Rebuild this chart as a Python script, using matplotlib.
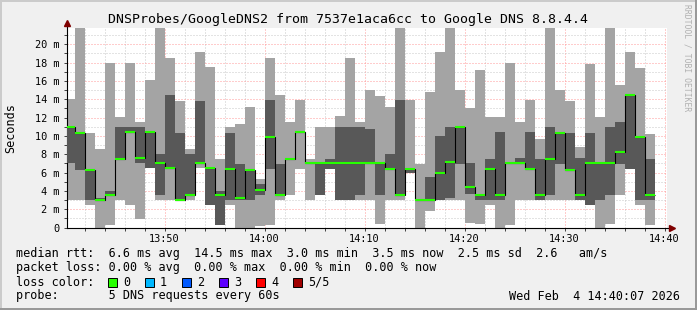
import numpy as np
import matplotlib.pyplot as plt
from matplotlib.patches import Rectangle
from matplotlib.lines import Line2D
from matplotlib.ticker import MultipleLocator

W, H = 697, 310
MONO = "DejaVu Sans Mono"

# one bar per minute starting 13:40, sorted ping times in ms
ping_max = [14.0, 23, 10.3, 8.6, 18.0, 12.1, 18.0, 11.55, 16.1, 23,
            18.5, 13.8, 8.6, 19.1, 17.5, 7.5, 11.0, 11.25, 13.2, 5.3,
            18.5, 14.45, 11.55, 13.9, 7.5, 11.0, 11.0, 12.2, 18.5, 11.55,
            15.0, 14.35, 13.2, 23, 13.9, 6.9, 14.8, 19.1, 23, 15.0,
            13.0, 17.2, 12.1, 12.1, 18.0, 11.55, 13.9, 9.65, 23, 15.0,
            13.8, 8.8, 17.85, 12.1, 23, 15.55, 19.1, 17.45, 10.2]
ping_p4 = [11.0, 10.3, 6.3, 3.2, 4.0, 11.0, 11.0, 11.0, 10.45, 8.0,
           14.45, 10.3, 8.0, 13.8, 6.45, 4.0, 10.3, 6.9, 6.3, 4.75,
           13.9, 6.9, 7.5, 10.45, 7.0, 7.0, 7.5, 11.0, 11.0, 11.0,
           10.75, 7.0, 8.0, 13.9, 6.4, 3.0, 5.5, 10.0, 11.0, 11.0,
           7.0, 3.7, 7.5, 10.45, 7.0, 7.55, 10.45, 7.5, 11.0, 10.45,
           10.3, 7.55, 10.3, 7.0, 11.0, 11.55, 14.45, 9.9, 7.5]
ping_med = [11.0, 10.3, 6.3, 3.0, 3.5, 7.5, 10.45, 7.6, 10.45, 7.0,
            6.45, 3.0, 3.5, 7.0, 6.45, 3.5, 6.35, 3.25, 6.3, 4.1,
            9.9, 3.5, 7.5, 10.45, 7.0, 7.0, 7.0, 7.0, 7.0, 7.0,
            7.0, 7.0, 6.4, 3.5, 6.4, 3.0, 3.0, 6.0, 7.2, 11.0,
            4.4, 3.55, 6.4, 3.5, 7.0, 7.0, 6.4, 3.5, 7.5, 10.3,
            6.3, 3.55, 7.0, 7.0, 7.0, 8.2, 14.45, 9.9, 3.5]
ping_p2 = [7.0, 6.3, 3.0, 3.0, 3.5, 7.5, 10.45, 7.0, 6.45, 3.5,
           6.45, 3.0, 3.5, 7.0, 2.45, 0.3, 3.0, 3.0, 3.0, 3.5,
           6.4, 3.5, 7.5, 10.45, 7.0, 3.5, 6.4, 3.0, 3.0, 3.5,
           6.9, 3.55, 6.4, 3.5, 6.0, 3.0, 3.0, 3.0, 3.2, 6.9,
           3.7, 3.0, 3.0, 3.0, 7.0, 6.9, 6.4, 3.0, 3.5, 6.9,
           6.3, 3.0, 2.45, 3.0, 3.5, 6.9, 6.4, 3.0, 3.0]
ping_min = [3.0, 3.0, 2.5, 0.0, 0.3, 3.0, 2.45, 0.95, 6.45, 3.0,
            3.0, 3.0, 3.0, 6.5, 2.45, 0.3, 2.45, 0.0, 0.0, 0.2,
            0.3, 3.0, 3.5, 6.4, 3.0, 3.5, 6.4, 3.0, 3.0, 3.0,
            3.0, 0.4, 3.0, 3.0, 6.0, 0.0, 1.8, 3.0, 3.0, 3.0,
            0.5, 0.4, 2.45, 0.0, 0.3, 3.0, 3.0, 3.0, 3.0, 3.0,
            3.0, 3.0, 2.45, 0.0, 0.4, 3.55, 6.4, 2.45, 0.3]

x_ticks = [10, 20, 30, 40, 50, 60]
x_labels = ["13:50", "14:00", "14:10", "14:20", "14:30", "14:40"]
y_ticks = list(range(0, 21, 2))
y_labels = ["0"] + ["%d m" % v for v in range(2, 21, 2)]

loss_labels = ["0", "1", "2", "3", "4", "5/5"]
loss_colors = ["#26ff00", "#00b8ff", "#0059ff", "#5e00ff", "#ff0000", "#a00000"]

legend_lines = [
    "median rtt:  6.6 ms avg  14.5 ms max  3.0 ms min  3.5 ms now  2.5 ms sd  2.6   am/s",
    "packet loss: 0.00 % avg  0.00 % max  0.00 % min  0.00 % now",
    "loss color:",
    "probe:       5 DNS requests every 60s",
]
stamp = "Wed Feb  4 14:40:07 2026"
title = "DNSProbes/GoogleDNS2 from 7537e1aca6cc to Google DNS 8.8.4.4"


def fx(x):
    return x / W


def fy(y):
    return 1 - y / H


fig = plt.figure(figsize=(W / 100, H / 100), dpi=100, facecolor="#f0f0f0")

# rrdtool style frame
fig.add_artist(Rectangle((0, fy(2)), 1, 2 / H, transform=fig.transFigure, color="#cbcbcb", lw=0))
fig.add_artist(Rectangle((0, 0), 2 / W, 1, transform=fig.transFigure, color="#cbcbcb", lw=0))
fig.add_artist(Rectangle((0, 0), 1, 2 / H, transform=fig.transFigure, color="#999999", lw=0))
fig.add_artist(Rectangle((fx(W - 2), 0), 2 / W, 1, transform=fig.transFigure, color="#999999", lw=0))

ax = fig.add_axes([fx(67), fy(227.5), 600 / W, 199.8 / H])
ax.set_facecolor("white")
ax.set_xlim(0.25, 60.25)
ax.set_ylim(0, 21.8)

n = len(ping_med)
left = np.arange(n)
mx = np.array(ping_max)
mn = np.array(ping_min)
p2 = np.array(ping_p2)
p4 = np.array(ping_p4)
med = np.array(ping_med)

ax.bar(left, mx - mn, bottom=mn, width=1, align="edge", color="#a4a4a4", lw=0, zorder=2)
ax.bar(left, p4 - p2, bottom=p2, width=1, align="edge", color="#585858", lw=0, zorder=3)
ax.stairs(med, np.arange(n + 1), baseline=None, color="black", lw=0.8, zorder=4)
ax.hlines(med, left, left + 1, color=loss_colors[0], lw=1.5, zorder=5)

# grid
ax.set_axisbelow(True)
ax.set_xticks(x_ticks)
ax.set_xticklabels(x_labels)
ax.xaxis.set_minor_locator(MultipleLocator(2))
ax.set_yticks(y_ticks)
ax.set_yticklabels(y_labels)
ax.yaxis.set_minor_locator(MultipleLocator(1))
ax.grid(which="minor", color="#c8c8c8", lw=0.72, ls=(0, (1, 2)))
ax.grid(which="major", color="#ff9a9a", lw=0.72, ls=(0, (1, 2)))
ax.tick_params(which="both", direction="out", length=2.2, width=0.7, color="#404040")
ax.tick_params(axis="x", pad=2.5, labelsize=7.4)
ax.tick_params(axis="y", pad=3, labelsize=7.4)
for lab in ax.get_xticklabels() + ax.get_yticklabels():
    lab.set_fontfamily(MONO)

for s in ax.spines.values():
    s.set_visible(False)
ax.add_line(Line2D([0, 0], [0, 1.025], transform=ax.transAxes, color="black", lw=0.8, clip_on=False))
ax.add_line(Line2D([0, 1.008], [0, 0], transform=ax.transAxes, color="black", lw=0.8, clip_on=False))
ax.plot([0], [1.025], marker="^", ms=4, color="#7f0000", transform=ax.transAxes, clip_on=False)
ax.plot([1.008], [0], marker=">", ms=4, color="#7f0000", transform=ax.transAxes, clip_on=False)

fig.text(fx(347.5), fy(19.3), title, ha="center", va="center", family=MONO, fontsize=9.55)
fig.text(fx(11), fy(128), "Seconds", ha="center", va="center", rotation=90, family=MONO, fontsize=8.5)
fig.text(fx(687.5), fy(58), "RRDTOOL / TOBI OETIKER", ha="center", va="center", rotation=270,
         family=MONO, fontsize=5.8, color="#b0b0b0")

rows = [254, 268, 282, 296]
for text, y in zip(legend_lines, rows):
    fig.text(fx(16), fy(y), text, ha="left", va="center", family=MONO, fontsize=8.5)
fig.text(fx(680), fy(296), stamp, ha="right", va="center", family=MONO, fontsize=8.5)

for i, (lab, col) in enumerate(zip(loss_labels, loss_colors)):
    x0 = 108 + 37 * i
    fig.add_artist(Rectangle((fx(x0), fy(286.5)), 8.5 / W, 9 / H, transform=fig.transFigure,
                             facecolor=col, edgecolor="black", lw=0.7))
    fig.text(fx(x0 + 15), fy(282), lab, ha="left", va="center", family=MONO, fontsize=8.5)

fig.savefig("out.png", dpi=100, facecolor=fig.get_facecolor())
